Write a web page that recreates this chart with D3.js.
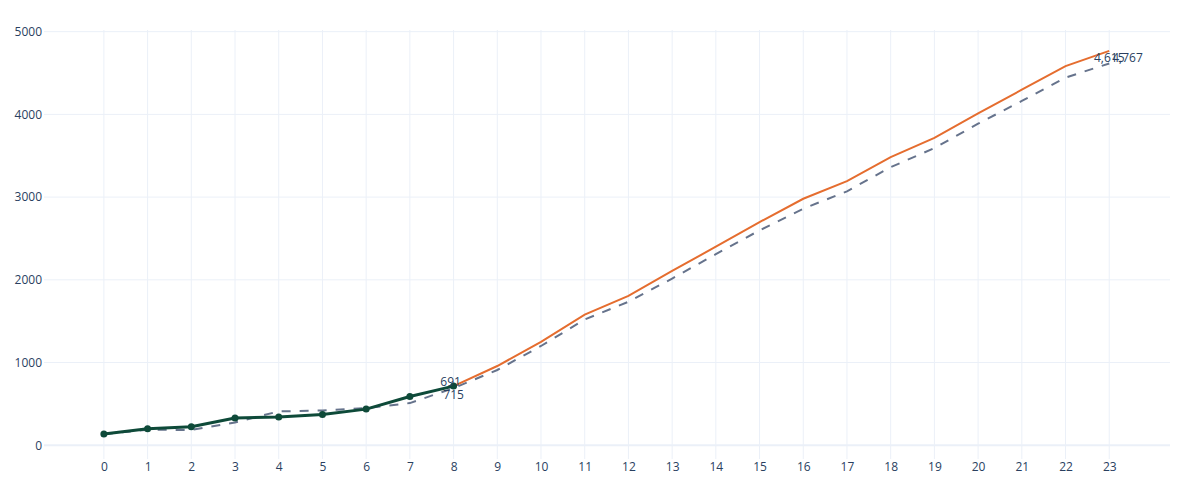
<!DOCTYPE html>
<meta charset="utf-8">
<script src="https://d3js.org/d3.v7.min.js"></script>
<style>
  body { margin: 0; background: #fff; }
  text { font-family: "Open Sans", sans-serif; }
</style>
<div id="chart"></div>
<script>
// days on the x axis
var days = d3.range(0, 24)
var yTicks = [0, 1000, 2000, 3000, 4000, 5000]

// observed values, days 0-8
var actualDays = [0, 1, 2, 3, 4, 5, 6, 7, 8]
var actual = [135, 199, 224, 329, 341, 372, 437, 590, 715]

// fitted / model line, days 0-23
var fitted = [135, 188, 185, 276, 410, 420, 450, 510, 691, 910, 1200, 1520,
  1735, 2015, 2310, 2598, 2860, 3070, 3362, 3592, 3888, 4162, 4445, 4615]

// forecast, days 8-23
var forecastDays = d3.range(8, 24)
var forecast = [715, 958, 1250, 1580, 1806, 2108, 2400, 2698, 2980, 3192,
  3483, 3715, 4011, 4298, 4584, 4767]

var W = 1200, H = 500
var plot = {left: 44, right: 1170, top: 30, bottom: 459}
var fmt = d3.format(",")

var svg = d3.select("#chart").append("svg")
  .attr("width", W)
  .attr("height", H)

var x = d3.scaleLinear().domain([-1.37, 24.39]).range([plot.left, plot.right])
var y = d3.scaleLinear().domain([-166, 5020]).range([plot.bottom, plot.top])

// grid
svg.append("g").selectAll("line")
  .data(days).enter().append("line")
  .attr("x1", d => x(d)).attr("x2", d => x(d))
  .attr("y1", plot.top).attr("y2", plot.bottom)
  .attr("stroke", "#ebf0f8").attr("stroke-width", 1)

svg.append("g").selectAll("line")
  .data(yTicks).enter().append("line")
  .attr("x1", plot.left).attr("x2", plot.right)
  .attr("y1", d => y(d)).attr("y2", d => y(d))
  .attr("stroke", "#ebf0f8").attr("stroke-width", d => d === 0 ? 2 : 1)

// axes labels
var yAxis = svg.append("g")
  .attr("transform", "translate(" + (plot.left - 2) + ",0)")
  .call(d3.axisLeft(y).tickValues(yTicks).tickFormat(d3.format("d")).tickSize(0).tickPadding(0))
yAxis.select(".domain").remove()
yAxis.selectAll("text")
  .attr("font-size", 12).attr("fill", "#2a3f5f")
  .style("font-family", "'Open Sans', sans-serif")

var xAxis = svg.append("g")
  .attr("transform", "translate(0," + (plot.bottom + 3) + ")")
  .call(d3.axisBottom(x).tickValues(days).tickFormat(d3.format("d")).tickSize(0).tickPadding(0))
xAxis.select(".domain").remove()
xAxis.selectAll("text")
  .attr("font-size", 12).attr("fill", "#2a3f5f")
  .style("font-family", "'Open Sans', sans-serif")

var line = d3.line().x(d => x(d[0])).y(d => y(d[1]))

// fitted, dashed
svg.append("path")
  .datum(days.map((d, i) => [d, fitted[i]]))
  .attr("d", line)
  .attr("fill", "none")
  .attr("stroke", "#66738c")
  .attr("stroke-width", 2)
  .attr("stroke-dasharray", "9,9")

// forecast
svg.append("path")
  .datum(forecastDays.map((d, i) => [d, forecast[i]]))
  .attr("d", line)
  .attr("fill", "none")
  .attr("stroke", "#e56d2f")
  .attr("stroke-width", 2)

// actual
var green = "#0e4a39"
svg.append("path")
  .datum(actualDays.map((d, i) => [d, actual[i]]))
  .attr("d", line)
  .attr("fill", "none")
  .attr("stroke", green)
  .attr("stroke-width", 3)
  .attr("stroke-linejoin", "round")

svg.append("g").selectAll("circle")
  .data(actualDays).enter().append("circle")
  .attr("cx", d => x(d))
  .attr("cy", (d, i) => y(actual[i]))
  .attr("r", 3.5)
  .attr("fill", green)

// value labels
var labels = [
  {xv: 8, v: fitted[8], anchor: "middle", dx: -3, dy: -2},
  {xv: 8, v: actual[8], anchor: "middle", dx: 0, dy: 13},
  {xv: 23, v: fitted[23], anchor: "middle", dx: 0, dy: -2},
  {xv: 23, v: forecast[forecast.length - 1], anchor: "start", dx: 3, dy: 11}
]
svg.append("g").selectAll("text")
  .data(labels).enter().append("text")
  .attr("x", d => x(d.xv) + d.dx)
  .attr("y", d => y(d.v) + d.dy)
  .attr("text-anchor", d => d.anchor)
  .attr("font-size", 12)
  .attr("fill", "#2a3f5f")
  .text(d => fmt(d.v))
</script>
